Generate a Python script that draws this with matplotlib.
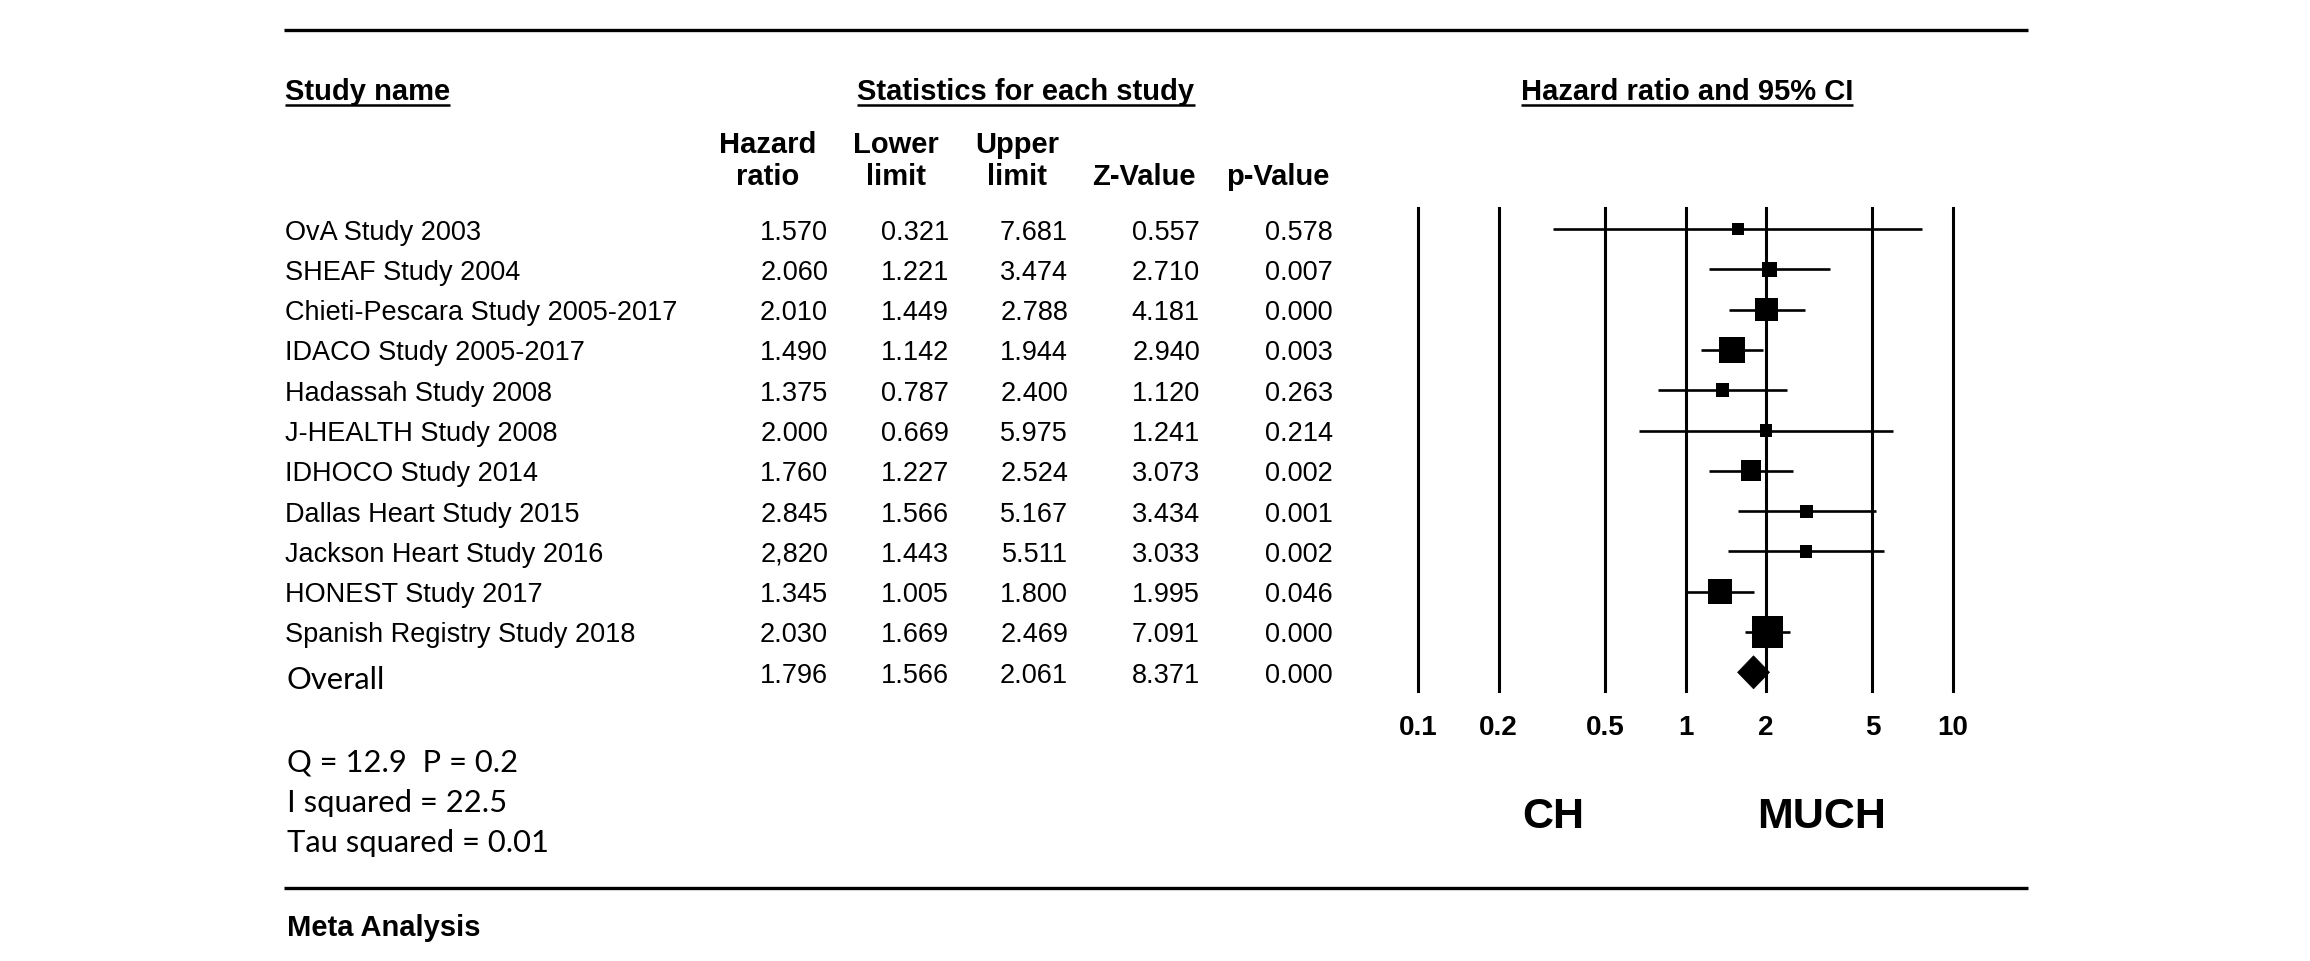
import matplotlib
matplotlib.use("Agg")
import matplotlib.pyplot as plt
import numpy as np
from matplotlib.patches import Polygon

# ---------------- data ----------------
studies = ["OvA Study 2003", "SHEAF Study 2004", "Chieti-Pescara Study 2005-2017",
           "IDACO Study 2005-2017", "Hadassah Study 2008", "J-HEALTH Study 2008",
           "IDHOCO Study 2014", "Dallas Heart Study 2015", "Jackson Heart Study 2016",
           "HONEST Study 2017", "Spanish Registry Study 2018"]
hr = [1.570, 2.060, 2.010, 1.490, 1.375, 2.000, 1.760, 2.845, 2.820, 1.345, 2.030]
lower = [0.321, 1.221, 1.449, 1.142, 0.787, 0.669, 1.227, 1.566, 1.443, 1.005, 1.669]
upper = [7.681, 3.474, 2.788, 1.944, 2.400, 5.975, 2.524, 5.167, 5.511, 1.800, 2.469]
zval = [0.557, 2.710, 4.181, 2.940, 1.120, 1.241, 3.073, 3.434, 3.033, 1.995, 7.091]
pval = [0.578, 0.007, 0.000, 0.003, 0.263, 0.214, 0.002, 0.001, 0.002, 0.046, 0.000]
rel_weight = [3.3, 5.1, 12.1, 16.5, 4.5, 3.7, 10.0, 4.0, 3.7, 14.4, 22.7]

overall_label = "Overall"
overall_hr = 1.796
overall_lower = 1.566
overall_upper = 2.061
overall_z = 8.371
overall_p = 0.000

axis_ticks = [0.1, 0.2, 0.5, 1, 2, 5, 10]
axis_tick_labels = ["0.1", "0.2", "0.5", "1", "2", "5", "10"]

col_headers = [("Hazard", "ratio"), ("Lower", "limit"), ("Upper", "limit"),
               ("", "Z-Value"), ("", "p-Value")]
stats_lines = ["Q = 12.9  P = 0.2", "I squared = 22.5", "Tau squared = 0.01"]
left_label = "CH"
right_label = "MUCH"

# ---------------- layout (pixels) ----------------
W, H = 2310, 962
fig = plt.figure(figsize=(W / 100, H / 100), dpi=100)
bg = fig.add_axes([0, 0, 1, 1])
bg.set_xlim(0, W)
bg.set_ylim(H, 0)
bg.axis("off")

ARIAL = "Liberation Sans"
CALI = "Lato"
row_y0, row_pitch = 230.0, 40.3


def row_center(i):
    return row_y0 + row_pitch * i


# horizontal rules
rule_x0, rule_x1 = 284, 2028
for yy in (30.5, 888.5):
    bg.plot([rule_x0, rule_x1], [yy, yy], color="black", lw=2.4, solid_capstyle="butt")

# section titles (bold, underlined)
fig.canvas.draw()
renderer = fig.canvas.get_renderer()


def underlined(x, y, s, ha):
    t = bg.text(x, y, s, ha=ha, va="baseline", fontsize=21, fontweight="bold",
                family=ARIAL)
    bb = t.get_window_extent(renderer=renderer)
    inv = bg.transData.inverted()
    (xa, _), (xb, _) = inv.transform([(bb.x0, bb.y0), (bb.x1, bb.y1)])
    bg.plot([xa, xb], [y + 6, y + 6], color="black", lw=1.8, solid_capstyle="butt")


underlined(285, 100, "Study name", "left")
underlined(1026, 100, "Statistics for each study", "center")
underlined(1687, 100, "Hazard ratio and 95% CI", "center")

# column headers
head_x = [768, 896, 1017, 1144, 1278]
for x, (l1, l2) in zip(head_x, col_headers):
    if l1:
        bg.text(x, 153, l1, ha="center", va="baseline", fontsize=21,
                fontweight="bold", family=ARIAL)
    bg.text(x, 185, l2, ha="center", va="baseline", fontsize=21,
            fontweight="bold", family=ARIAL)

# table rows
num_right = [828, 949, 1068, 1200, 1333]
hr_text = [f"{v:.3f}" for v in hr]
hr_text[8] = hr_text[8].replace(".", ",")
for i, name in enumerate(studies):
    yb = row_center(i) + 9.5
    bg.text(285, yb, name, ha="left", va="baseline", fontsize=19.5, family=ARIAL)
    vals = [hr_text[i], f"{lower[i]:.3f}", f"{upper[i]:.3f}", f"{zval[i]:.3f}",
            f"{pval[i]:.3f}"]
    for x, s in zip(num_right, vals):
        bg.text(x, yb, s, ha="right", va="baseline", fontsize=19.5, family=ARIAL)

# overall row
yb = row_center(11) + 9.5
bg.text(286, 689, overall_label, ha="left", va="baseline", fontsize=22.2, family=CALI)
for x, v in zip(num_right, [overall_hr, overall_lower, overall_upper, overall_z, overall_p]):
    bg.text(x, yb, f"{v:.3f}", ha="right", va="baseline", fontsize=19.5, family=ARIAL)

# heterogeneity stats
for s, yy in zip(stats_lines, [772, 812, 852]):
    bg.text(287, yy, s, ha="left", va="baseline", fontsize=22.2, family=CALI)

bg.text(287, 936, "Meta Analysis", ha="left", va="baseline", fontsize=21,
        fontweight="bold", family=ARIAL)

# ---------------- forest plot ----------------
fx0, fx1 = 1418, 1953
fy_top, fy_bot = 209, 692
ax = fig.add_axes([fx0 / W, 1 - fy_bot / H, (fx1 - fx0) / W, (fy_bot - fy_top) / H])
ax.set_xscale("log")
ax.set_xlim(0.1, 10)
ax.set_ylim((fy_bot - row_y0) / row_pitch, (fy_top - row_y0) / row_pitch)
ax.axis("off")

for t in axis_ticks:
    ax.axvline(t, color="black", lw=2.2, zorder=1, clip_on=False)

rows = np.arange(len(studies))
ax.hlines(rows, lower, upper, color="black", lw=1.9, zorder=2)
side_px = 31.1 * np.sqrt(np.array(rel_weight) / max(rel_weight))
ax.scatter(hr, rows, marker="s", s=(side_px * 0.72) ** 2, color="black",
           linewidths=0, zorder=3)

ov_row = len(studies)
h = 16.5 / row_pitch
diamond = Polygon([(overall_lower, ov_row), (overall_hr, ov_row - h),
                   (overall_upper, ov_row), (overall_hr, ov_row + h)],
                  closed=True, facecolor="black", edgecolor="black", lw=0.5, zorder=3)
ax.add_patch(diamond)

xt = ax.get_xaxis_transform()
lab_y = (fy_bot - 735) / (fy_bot - fy_top)
for t, lab in zip(axis_ticks, axis_tick_labels):
    ax.text(t, lab_y, lab, transform=xt, ha="center", va="baseline", fontsize=20,
            fontweight="bold", family=ARIAL, clip_on=False)

bg.text(1553, 828, left_label, ha="center", va="baseline", fontsize=31,
        fontweight="bold", family=ARIAL)
bg.text(1822, 828, right_label, ha="center", va="baseline", fontsize=31,
        fontweight="bold", family=ARIAL)

fig.savefig("out.png", dpi=100, facecolor="white")
